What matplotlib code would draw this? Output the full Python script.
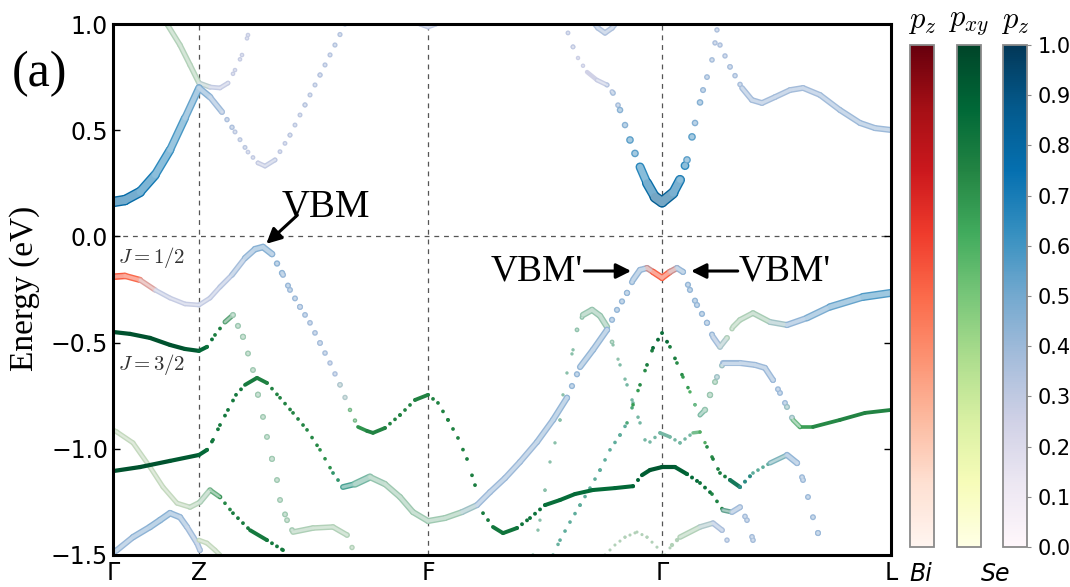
import numpy as np
import matplotlib
matplotlib.use("Agg")
import matplotlib.pyplot as plt
from matplotlib.collections import LineCollection
from matplotlib.colors import Normalize
import matplotlib.cm as cm

plt.rcParams['mathtext.fontset'] = 'cm'
plt.rcParams['lines.scale_dashes'] = False

# high-symmetry points along the k-path (path length in %)
ksym_pos = [0.0, 11.05, 40.49, 70.57, 100.0]
ksym_lab = ['Γ', 'Z', 'F', 'Γ', 'L']
e_ticks = [1.0, 0.5, 0.0, -0.5, -1.0, -1.5]
cbar_ticks = [0.0, 0.1, 0.2, 0.3, 0.4, 0.5, 0.6, 0.7, 0.8, 0.9, 1.0]

# orbital code per node: r = Bi p_z, g = Se p_xy, b = Se p_z,
# m = mixed Se (wide), t = mixed Se leaning p_xy (thin)

# --- conduction bands ---
cb1_k = [0.00, 1.54, 3.47, 5.40, 7.33, 9.25, 11.05, 12.47, 14.01, 15.68, 17.35, 18.64, 19.54, 20.82, 22.75, 24.68, 26.61, 28.53, 29.82]
cb1_e = [0.162, 0.171, 0.209, 0.289, 0.407, 0.557, 0.699, 0.656, 0.586, 0.492, 0.397, 0.346, 0.331, 0.360, 0.477, 0.619, 0.760, 0.901, 1.000]
cb1_w = [0.8, 0.8, 0.76, 0.68, 0.62, 0.56, 0.5, 0.42, 0.38, 0.33, 0.3, 0.28, 0.28, 0.3, 0.3, 0.32, 0.32, 0.33, 0.33]
cb1_o = "bbbbbbbbbbbbbbbbbbb"

cb2_k = [6.04, 6.94, 8.61, 9.90, 11.05, 12.47, 13.75, 14.78, 15.68, 16.58, 17.35, 17.87]
cb2_e = [1.047, 1.000, 0.901, 0.807, 0.722, 0.703, 0.699, 0.722, 0.783, 0.854, 0.948, 1.019]
cb2_w = [0.35, 0.35, 0.35, 0.35, 0.35, 0.3, 0.28, 0.28, 0.28, 0.28, 0.28, 0.28]
cb2_o = "mmmmmbbbbbbb"

cb3_k = [58.48, 59.13, 59.77, 60.93, 62.21, 63.50, 64.27, 65.17, 66.45, 67.74, 68.64, 69.67, 70.57, 71.98, 72.88, 73.78, 74.81, 75.84, 76.35, 76.99, 77.38, 77.63, 77.89]
cb3_e = [0.958, 0.892, 0.840, 0.774, 0.736, 0.713, 0.675, 0.595, 0.454, 0.327, 0.251, 0.185, 0.162, 0.204, 0.266, 0.360, 0.534, 0.689, 0.750, 0.831, 0.911, 0.972, 1.019]
cb3_w = [0.3, 0.3, 0.28, 0.25, 0.25, 0.3, 0.35, 0.4, 0.5, 0.6, 0.72, 0.82, 0.88, 0.8, 0.7, 0.6, 0.5, 0.42, 0.4, 0.38, 0.36, 0.35, 0.35]
cb3_o = "bbbbbbbbbbbbbbbbbbbbbbb"

cb4_k = [77.38, 78.02, 79.31, 80.85, 82.13, 83.42, 85.09, 87.02, 88.69, 90.87, 93.44, 96.02, 97.94, 100.0]
cb4_e = [1.019, 0.901, 0.798, 0.699, 0.642, 0.628, 0.656, 0.689, 0.699, 0.666, 0.595, 0.534, 0.510, 0.501]
cb4_w = [0.35, 0.35, 0.36, 0.37, 0.38, 0.38, 0.38, 0.38, 0.38, 0.38, 0.39, 0.4, 0.4, 0.4]
cb4_o = "bbbbbbbbbbbbbb"

cb5_k = [61.31, 62.34, 63.24, 64.14, 65.17]
cb5_e = [1.028, 0.981, 0.958, 0.981, 1.028]
cb5_w = [0.35, 0.35, 0.35, 0.35, 0.35]
cb5_o = "bbbbb"

cb6_k = [38.17, 39.46, 40.49, 41.52, 42.80]
cb6_e = [1.028, 1.000, 0.986, 1.000, 1.028]
cb6_w = [0.3, 0.3, 0.3, 0.3, 0.3]
cb6_o = "bbbbb"

# --- valence bands ---
vb1_k = [0.00, 1.54, 3.47, 5.40, 7.33, 9.25, 11.05, 12.47, 13.75, 15.30, 16.97, 18.25, 19.28, 20.44, 21.85, 22.75, 24.04, 25.32,
         26.61, 27.89, 29.18, 30.46, 31.49, 32.65, 33.42, 34.96, 36.89, 38.82, 40.49, 41.77, 43.06, 44.34, 45.50, 46.53, 47.56,
         48.84, 50.13, 51.93, 53.60, 55.53, 57.46, 59.38, 61.70, 64.52, 66.84, 67.99, 69.02, 70.57, 72.24, 73.78, 75.45, 76.99,
         78.41, 79.56, 80.59, 81.49, 82.26, 82.90]
vb1_e = [-0.190, -0.186, -0.205, -0.252, -0.290, -0.318, -0.323, -0.290, -0.238, -0.181, -0.102, -0.060, -0.050, -0.083, -0.181,
         -0.252, -0.332, -0.407, -0.502, -0.596, -0.699, -0.817, -0.897, -0.916, -0.925, -0.902, -0.841, -0.770, -0.746, -0.784,
         -0.864, -0.949, -1.048, -1.171, -1.303, -1.368, -1.397, -1.373, -1.326, -1.265, -1.241, -1.213, -1.194, -1.185, -1.176,
         -1.124, -1.100, -1.086, -1.086, -1.119, -1.161, -1.213, -1.289, -1.298, -1.275, -1.336, -1.430, -1.500]
vb1_w = [0.55, 0.55, 0.45, 0.3, 0.28, 0.28, 0.28, 0.3, 0.3, 0.35, 0.4, 0.45, 0.45, 0.45, 0.42, 0.4, 0.4, 0.38, 0.38, 0.36, 0.35,
         0.35, 0.65, 0.75, 0.75, 0.75, 0.75, 0.75, 0.76, 0.76, 0.76, 0.76, 0.76, 0.78, 0.78, 0.8, 0.82, 0.82, 0.82, 0.84, 0.84,
         0.86, 0.86, 0.86, 0.88, 0.9, 0.92, 0.95, 0.92, 0.88, 0.85, 0.8, 0.72, 0.4, 0.38, 0.38, 0.38, 0.38]
vb1_o = "rrrbbbbbbbbbbbbbbbbbbmgggggggggggggggggggggggggggggggbbbbb"

vb2_k = [0.00, 2.19, 4.76, 7.33, 9.25, 11.05, 12.08, 13.11, 14.40, 15.42, 16.71, 17.99, 18.64, 19.28, 19.79, 20.44, 21.08,
         21.47, 22.37, 23.14, 25.71, 28.28, 30.08, 31.11]
vb2_e = [-0.450, -0.459, -0.478, -0.511, -0.530, -0.539, -0.520, -0.464, -0.403, -0.370, -0.473, -0.629, -0.746, -0.850,
         -0.944, -1.048, -1.147, -1.241, -1.336, -1.392, -1.373, -1.368, -1.406, -1.500]
vb2_w = [0.95, 0.95, 0.95, 0.95, 0.95, 0.9, 0.85, 0.8, 0.75, 0.42, 0.4, 0.4, 0.4, 0.4, 0.4, 0.4, 0.4, 0.4, 0.4, 0.38, 0.35,
         0.35, 0.35, 0.35]
vb2_o = "gggggggggmmmmmmmmmmmmmmm"

vb3_k = [0.00, 3.47, 7.33, 11.05, 12.08, 12.85, 13.75, 14.78, 15.81, 16.97, 18.51, 19.79, 21.47, 23.14, 24.94, 26.61, 28.28,
         29.56, 31.11, 33.03, 34.96, 36.89, 38.56, 40.49, 42.67, 44.86, 46.79, 48.46, 50.39, 52.31, 54.50, 56.56, 58.35, 60.03,
         61.70, 63.50, 64.78, 66.07, 66.84, 67.74, 68.64, 69.41, 70.57, 71.59, 72.49, 73.26, 74.16, 75.06, 76.35, 77.12, 78.02,
         78.92, 79.69, 80.59, 82.26, 84.45, 86.63, 89.20, 92.16, 96.40, 100.0]
vb3_e = [-1.105, -1.086, -1.057, -1.029, -1.005, -0.958, -0.888, -0.817, -0.746, -0.699, -0.666, -0.690, -0.760, -0.831,
         -0.911, -1.005, -1.114, -1.180, -1.166, -1.133, -1.166, -1.227, -1.298, -1.340, -1.326, -1.298, -1.265, -1.204, -1.138,
         -1.062, -0.968, -0.864, -0.760, -0.615, -0.534, -0.440, -0.346, -0.266, -0.205, -0.158, -0.149, -0.167, -0.195, -0.167,
         -0.149, -0.167, -0.252, -0.323, -0.407, -0.473, -0.520, -0.478, -0.426, -0.393, -0.361, -0.403, -0.417, -0.384, -0.332,
         -0.285, -0.266]
vb3_w = [0.95, 0.95, 0.95, 0.9, 0.85, 0.8, 0.8, 0.8, 0.8, 0.8, 0.78, 0.75, 0.75, 0.75, 0.75, 0.72, 0.7, 0.65, 0.55, 0.45,
         0.4, 0.4, 0.4, 0.4, 0.4, 0.4, 0.4, 0.4, 0.4, 0.4, 0.4, 0.42, 0.42, 0.42, 0.42, 0.42, 0.42, 0.42, 0.42, 0.42, 0.4, 0.5,
         0.55, 0.5, 0.4, 0.42, 0.42, 0.42, 0.42, 0.4, 0.38, 0.35, 0.35, 0.35, 0.38, 0.38, 0.4, 0.45, 0.5, 0.55, 0.6]
vb3_o = "gggggggggggggggggtmmmmmmmmbbbbbbbbbbbbbbbrrrbbbbbbbmmmmmbbbbbb"

vb4_k = [53.98, 54.88, 55.53, 56.17, 56.81, 57.46, 57.84, 58.35, 59.13, 59.64, 60.41, 61.57, 62.60, 63.50, 64.27, 65.17,
         66.07, 66.84, 67.74, 68.38, 69.02, 70.31, 71.59, 72.88, 74.55, 75.45, 76.35, 77.12, 78.02, 79.31, 80.59, 82.26, 84.45,
         86.63, 87.92, 88.69, 89.33, 89.97, 90.62, 91.26]
vb4_e = [-1.500, -1.336, -1.194, -1.062, -0.972, -0.864, -0.746, -0.643, -0.534, -0.440, -0.370, -0.346, -0.374, -0.426,
         -0.511, -0.605, -0.699, -0.784, -0.878, -0.958, -0.968, -0.925, -0.944, -0.972, -0.925, -0.921, -0.991, -1.048, -1.114,
         -1.147, -1.180, -1.114, -1.067, -1.029, -1.067, -1.147, -1.227, -1.322, -1.397, -1.500]
vb4_w = [0.45, 0.45, 0.45, 0.45, 0.45, 0.45, 0.45, 0.45, 0.45, 0.45, 0.42, 0.42, 0.42, 0.42, 0.42, 0.45, 0.5, 0.5, 0.5, 0.5,
         0.5, 0.5, 0.5, 0.5, 0.5, 0.5, 0.7, 0.75, 0.78, 0.78, 0.78, 0.6, 0.5, 0.45, 0.4, 0.4, 0.4, 0.4, 0.4, 0.4]
vb4_o = "ttttttttttmmmmtttttttttttgggggtttbbbbbbb"

vb5_k = [56.56, 57.46, 58.74, 60.03, 61.31, 62.60, 63.88, 65.17, 66.07, 66.84, 67.74, 68.64, 69.41, 70.57, 71.59, 72.49,
         73.26, 74.16, 74.81, 75.45, 76.09, 76.74, 77.63, 78.41, 80.59, 82.52, 83.80, 84.83, 85.73, 86.63, 87.40, 88.30, 89.97,
         93.44, 96.66, 100.0]
vb5_e = [-1.500, -1.430, -1.345, -1.265, -1.185, -1.100, -1.005, -0.935, -0.878, -0.793, -0.699, -0.605, -0.525, -0.455,
         -0.520, -0.596, -0.662, -0.732, -0.793, -0.841, -0.817, -0.746, -0.662, -0.596, -0.596, -0.605, -0.619, -0.676,
         -0.737, -0.803, -0.864, -0.897, -0.897, -0.864, -0.831, -0.817]
vb5_w = [0.5, 0.55, 0.55, 0.55, 0.55, 0.55, 0.55, 0.55, 0.55, 0.65, 0.7, 0.75, 0.8, 0.9, 0.8, 0.75, 0.7, 0.65, 0.55, 0.5,
         0.45, 0.42, 0.4, 0.4, 0.4, 0.4, 0.4, 0.4, 0.4, 0.4, 0.42, 0.6, 0.72, 0.75, 0.75, 0.75]
vb5_o = "tttttttttggggggggggtmmmbbbbbbbmggggg"

vb6_k = [63.24, 64.52, 65.81, 67.35, 68.64, 69.92, 70.57]
vb6_e = [-1.500, -1.453, -1.416, -1.392, -1.416, -1.463, -1.500]
vb6_w = [0.35, 0.35, 0.35, 0.35, 0.35, 0.35, 0.35]
vb6_o = "ttttttt"

vb7_k = [70.95, 71.85, 72.88, 75.45, 77.12, 78.28, 78.92, 79.56]
vb7_e = [-1.500, -1.453, -1.416, -1.368, -1.350, -1.383, -1.430, -1.500]
vb7_w = [0.35, 0.35, 0.35, 0.35, 0.36, 0.36, 0.36, 0.36]
vb7_o = "ttmmbbbb"

vb8_k = [0.00, 0.51, 2.57, 4.76, 6.43, 8.23, 9.90, 11.18, 12.47, 13.75, 15.42, 17.61, 19.79, 21.85, 22.37]
vb8_e = [-0.911, -0.921, -0.972, -1.086, -1.180, -1.256, -1.275, -1.251, -1.194, -1.227, -1.303, -1.383, -1.430, -1.477, -1.500]
vb8_w = [0.3, 0.3, 0.3, 0.3, 0.3, 0.3, 0.32, 0.35, 0.4, 0.7, 0.78, 0.8, 0.8, 0.8, 0.8]
vb8_o = "mmmmmmmmmgggggg"

vb9_k = [0.00, 0.51, 2.57, 4.76, 6.04, 7.33, 8.61, 9.51, 10.80, 11.18, 11.44]
vb9_e = [-1.490, -1.477, -1.416, -1.368, -1.336, -1.303, -1.322, -1.368, -1.444, -1.477, -1.500]
vb9_w = [0.4, 0.4, 0.42, 0.45, 0.45, 0.45, 0.42, 0.4, 0.38, 0.38, 0.38]
vb9_o = "bbbbbbbbbbb"

vb10_k = [11.05, 12.08, 13.11, 13.75]
vb10_e = [-1.430, -1.444, -1.477, -1.500]
vb10_w = [0.3, 0.3, 0.3, 0.3]
vb10_o = "mmmm"

bands = [
    (vb9_k, vb9_e, vb9_w, vb9_o), (vb10_k, vb10_e, vb10_w, vb10_o),
    (vb8_k, vb8_e, vb8_w, vb8_o), (vb6_k, vb6_e, vb6_w, vb6_o),
    (vb7_k, vb7_e, vb7_w, vb7_o), (vb2_k, vb2_e, vb2_w, vb2_o),
    (vb4_k, vb4_e, vb4_w, vb4_o), (vb5_k, vb5_e, vb5_w, vb5_o),
    (vb1_k, vb1_e, vb1_w, vb1_o), (vb3_k, vb3_e, vb3_w, vb3_o),
    (cb6_k, cb6_e, cb6_w, cb6_o), (cb5_k, cb5_e, cb5_w, cb5_o),
    (cb2_k, cb2_e, cb2_w, cb2_o), (cb4_k, cb4_e, cb4_w, cb4_o),
    (cb1_k, cb1_e, cb1_w, cb1_o), (cb3_k, cb3_e, cb3_w, cb3_o),
]

cmaps = {'r': plt.get_cmap('Reds'), 'g': plt.get_cmap('YlGn'), 'b': plt.get_cmap('PuBu')}


def node_color(w, orb):
    if orb in 'mt':
        return 0.5 * (np.array(cmaps['g'](w)) + np.array(cmaps['b'](w)))
    return np.array(cmaps[orb](w))


def node_width(w, orb):
    # line width in points, grows with projected weight
    if orb == 'g':
        return 1.7 + 1.4 * w
    if orb == 't':
        return 1.6 + 2.0 * w
    if orb == 'r':
        return 1.5 + 6.0 * w
    return 1.2 + 8.0 * w


def k_step_px(kmid):
    # k-mesh on screen: the short Gamma-Z leg is sampled much more densely
    return 1.6 if kmid < ksym_pos[1] else 5.0


def draw_band(ax, k, e, w, orb, zorder):
    pix = ax.transData.transform(np.column_stack([k, e]))
    cols = [node_color(a, o) for a, o in zip(w, orb)]
    wids = [node_width(a, o) for a, o in zip(w, orb)]
    segs, c_out, c_in, lw_out, lw_in, styles = [], [], [], [], [], []
    for i in range(len(k) - 1):
        dx, dy = pix[i + 1] - pix[i]
        slope = abs(dy / dx) if dx != 0 else 50.0
        lw = 0.5 * (wids[i] + wids[i + 1])
        col = 0.5 * (cols[i] + cols[i + 1])
        step_pt = k_step_px(0.5 * (k[i] + k[i + 1])) * np.hypot(1.0, slope) * 72.0 / fig.dpi
        styles.append((0, (0.001, step_pt)) if step_pt > 1.5 * lw else 'solid')
        segs.append([(k[i], e[i]), (k[i + 1], e[i + 1])])
        c_out.append(col)
        lw_out.append(lw)
        # hollow-marker look for the wide projections
        if lw > 3.2:
            inner = col.copy()
            inner[:3] = col[:3] + 0.45 * (1.0 - col[:3])
            c_in.append(inner)
            lw_in.append(lw - 2.0)
        else:
            c_in.append((0, 0, 0, 0))
            lw_in.append(0.0)
    lc = LineCollection(segs, colors=c_out, linewidths=lw_out, linestyles=styles,
                        capstyle='round', joinstyle='round', zorder=zorder)
    ax.add_collection(lc)
    lc2 = LineCollection(segs, colors=c_in, linewidths=lw_in, linestyles=styles,
                         capstyle='round', joinstyle='round', zorder=zorder + 0.5)
    ax.add_collection(lc2)


fig = plt.figure(figsize=(10.7, 5.87), dpi=100)
ax = fig.add_axes([113 / 1070, 1 - 555 / 587, 778 / 1070, 531 / 587])
ax.set_xlim(0, 100)
ax.set_ylim(-1.5, 1.0)

for xs in ksym_pos[1:-1]:
    ax.axvline(xs, color='#555555', lw=0.9, ls=(0, (3.5, 3.5)), zorder=1)
ax.axhline(0.0, color='#555555', lw=0.9, ls=(0, (3.5, 3.5)), zorder=1)

for n, (k, e, w, o) in enumerate(bands):
    draw_band(ax, k, e, w, o, zorder=2 + n)

ax.set_xticks(ksym_pos)
ax.set_xticklabels(ksym_lab)
ax.set_yticks(e_ticks)
ax.set_yticklabels(['%.1f' % v if v >= 0 else '\u2212%.1f' % abs(v) for v in e_ticks])
ax.tick_params(axis='both', direction='in', length=5, width=1, labelsize=17, right=True)
ax.tick_params(axis='x', length=0, pad=4)
for sp in ax.spines.values():
    sp.set_linewidth(2.2)
    sp.set_zorder(50)

serif = 'Liberation Serif'
fig.text(25 / 1070, 1 - 288 / 587, 'Energy (eV)', rotation=90, fontsize=24, family=serif,
         ha='center', va='center')
fig.text(12 / 1070, 1 - 74 / 587, '(a)', fontsize=36, family=serif, ha='left', va='center')

# band-edge annotations
arrow = dict(arrowstyle='-|>,head_length=0.9,head_width=0.45', color='black', lw=2.2,
             shrinkA=0, shrinkB=0)
ax.annotate('', xy=(19.7, -0.035), xytext=(23.7, 0.10), arrowprops=arrow, zorder=60)
ax.text(21.7, 0.135, 'VBM', fontsize=28, family=serif, ha='left', va='center', zorder=60)
ax.annotate('', xy=(66.6, -0.163), xytext=(60.6, -0.163), arrowprops=arrow, zorder=60)
ax.text(60.4, -0.163, "VBM'", fontsize=27, family=serif, ha='right', va='center', zorder=60)
ax.annotate('', xy=(74.3, -0.163), xytext=(80.3, -0.163), arrowprops=arrow, zorder=60)
ax.text(80.4, -0.163, "VBM'", fontsize=27, family=serif, ha='left', va='center', zorder=60)
ax.text(0.6, -0.10, r'$J=1/2$', fontsize=15, color='#333333', ha='left', va='center', zorder=60)
ax.text(0.6, -0.605, r'$J=3/2$', fontsize=15, color='#333333', ha='left', va='center', zorder=60)

# projection colour scales
norm = Normalize(0.0, 1.0)
for x0, name, title in [(910, 'Reds', r'$p_z$'), (957, 'YlGn', r'$p_{xy}$'), (1003, 'PuBu', r'$p_z$')]:
    cax = fig.add_axes([x0 / 1070, 1 - 547 / 587, 24 / 1070, 502 / 587])
    cb = fig.colorbar(cm.ScalarMappable(norm=norm, cmap=name), cax=cax)
    cb.outline.set_edgecolor('#8a8a8a')
    cb.outline.set_linewidth(1.3)
    if name == 'PuBu':
        cb.set_ticks(cbar_ticks)
        cb.set_ticklabels(['%.1f' % t for t in cbar_ticks])
        cax.tick_params(labelsize=15, length=3, width=0.8, color='#8a8a8a', pad=5)
    else:
        cb.set_ticks([])
    fig.text((x0 + 12) / 1070, 1 - 22 / 587, title, fontsize=22, ha='center', va='center')

fig.text(921 / 1070, 1 - 574 / 587, 'Bi', fontsize=17, style='italic', ha='center', va='center')
fig.text(996 / 1070, 1 - 574 / 587, 'Se', fontsize=17, style='italic', ha='center', va='center')

fig.savefig('out.png', dpi=100)
